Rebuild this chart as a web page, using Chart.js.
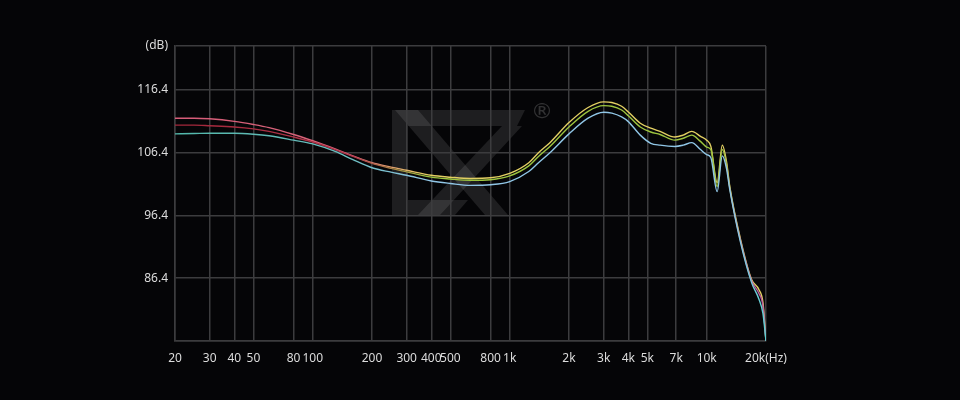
<!DOCTYPE html>
<html>
<head>
<meta charset="utf-8">
<script src="https://cdn.jsdelivr.net/npm/chart.js@4/dist/chart.umd.min.js"></script>
<style>
  html, body { margin: 0; padding: 0; background: #050507; }
  #wrap { width: 960px; height: 400px; position: relative; }
</style>
</head>
<body>
<div id="wrap"><canvas id="c" width="960" height="400"></canvas></div>
<script>
// ---- data ----
const freqs = [20, 25, 30, 40, 50, 60, 80, 100, 130, 160, 200, 250, 300, 400, 500, 630, 800, 1000, 1250, 1400, 1600, 2000, 2500, 3000, 3300, 3700, 4000, 4600, 5200, 5800, 6900, 7600, 8400, 9300, 10000, 10500, 11300, 12000, 12600, 13100, 14800, 16900, 18400, 19300, 20000];
const seriesA = [111.9, 111.9, 111.8, 111.4, 110.9, 110.4, 109.3, 108.3, 107.0, 105.9, 104.8, 104.1, 103.6, 102.8, 102.5, 102.3, 102.4, 103.1, 104.8, 106.4, 108.0, 111.2, 113.6, 114.5, 114.4, 113.8, 112.9, 111.1, 110.3, 109.8, 108.9, 109.2, 109.8, 109.0, 108.4, 107.4, 101.6, 107.6, 105.0, 101.0, 92.8, 86.2, 84.6, 82.5, 76.4];
const seriesB = [110.8, 110.8, 110.7, 110.5, 110.2, 109.8, 108.9, 108.1, 106.9, 105.8, 104.7, 103.9, 103.35, 102.5, 102.2, 102.0, 102.1, 102.7, 104.3, 105.8, 107.4, 110.5, 113.0, 113.9, 113.8, 113.2, 112.3, 110.5, 109.7, 109.3, 108.4, 108.7, 109.2, 108.2, 107.3, 106.9, 101.0, 106.9, 104.6, 100.8, 92.6, 86.0, 84.0, 82.0, 76.4];
const seriesC = [109.4, 109.45, 109.5, 109.5, 109.35, 109.1, 108.4, 107.8, 106.6, 105.3, 104.0, 103.3, 102.8, 101.9, 101.5, 101.2, 101.3, 101.8, 103.4, 104.8, 106.4, 109.4, 111.9, 112.85, 112.7, 112.1, 111.35, 109.2, 107.9, 107.6, 107.4, 107.6, 108.0, 106.9, 106.1, 105.6, 100.2, 105.9, 103.9, 100.5, 92.3, 85.7, 83.1, 80.8, 76.4];
const xTicks = [20, 30, 40, 50, 80, 100, 200, 300, 400, 500, 800, 1000, 2000, 3000, 4000, 5000, 7000, 10000, 20000];
const xTickLabels = ['20', '30', '40', '50', '80', '100', '200', '300', '400', '500', '800', '1k', '2k', '3k', '4k', '5k', '7k', '10k', '20k(Hz)'];
const yTicks = [76.4, 86.4, 96.4, 106.4, 116.4, 123.4];
const yTickLabels = ['', '86.4', '96.4', '106.4', '116.4', '(dB)'];

// colour stops (frequency, colour) per series
const stopsA = [[20, '#d65c78'], [160, '#d8667a'], [380, '#e2cf62'], [20000, '#e2cf62']];
const stopsB = [[20, '#a3263a'], [160, '#b0364a'], [380, '#9cc43e'], [12000, '#9cc43e'], [16000, '#c060a0'], [20000, '#c060a0']];
const stopsC = [[20, '#52b8aa'], [160, '#6cbcc0'], [380, '#90c6e6'], [14000, '#90c6e6'], [20000, '#5cd0d0']];

function gradientFor(stops) {
  return function(context) {
    const chart = context.chart;
    const area = chart.chartArea;
    if (!area) return stops[0][1];
    const g = chart.ctx.createLinearGradient(area.left, 0, area.right, 0);
    stops.forEach(([f, col]) => {
      const p = Math.min(1, Math.max(0, Math.log10(f / 20) / 3));
      g.addColorStop(p, col);
    });
    return g;
  };
}

function pts(vals) { return freqs.map((f, i) => ({ x: f, y: vals[i] })); }

const logoPlugin = {
  id: 'logo',
  beforeDraw(chart) {
    const ctx = chart.ctx;
    ctx.save();
    ctx.fillStyle = '#050507';
    ctx.fillRect(0, 0, chart.width, chart.height);
    ctx.fillStyle = 'rgba(255,255,255,0.10)';
    const polys = [
      [[392, 110], [408, 110], [408, 215], [392, 215]],
      [[408, 110], [525, 110], [517, 126], [408, 126]],
      [[395, 110], [418, 110], [508, 215], [485, 215]],
      [[502, 126], [522, 126], [440, 215], [418, 215]],
      [[408, 200], [468, 200], [455, 215], [408, 215]]
    ];
    polys.forEach(p => {
      ctx.beginPath();
      ctx.moveTo(p[0][0], p[0][1]);
      for (let i = 1; i < p.length; i++) ctx.lineTo(p[i][0], p[i][1]);
      ctx.closePath();
      ctx.fill();
    });
    ctx.fillStyle = 'rgba(255,255,255,0.18)';
    ctx.font = '22px "DejaVu Sans"';
    ctx.textAlign = 'center';
    ctx.textBaseline = 'middle';
    ctx.fillText('®', 542, 112);
    ctx.restore();
  }
};

const gridColor = '#3c3c3e';
new Chart(document.getElementById('c'), {
  type: 'line',
  data: {
    datasets: [
      { data: pts(seriesC), borderColor: gradientFor(stopsC) },
      { data: pts(seriesB), borderColor: gradientFor(stopsB) },
      { data: pts(seriesA), borderColor: gradientFor(stopsA) }
    ].map(d => Object.assign(d, { borderWidth: 1.4, pointRadius: 0, fill: false, cubicInterpolationMode: 'monotone' }))
  },
  options: {
    responsive: false,
    animation: false,
    events: [],
    layout: { padding: { top: 46, right: 194, bottom: 0, left: 0 } },
    plugins: { legend: { display: false }, tooltip: { enabled: false } },
    scales: {
      x: {
        type: 'logarithmic',
        min: 20, max: 20000,
        afterBuildTicks: s => { s.ticks = xTicks.map(v => ({ value: v })); },
        afterFit: s => { s.height = 59; },
        grid: { color: gridColor, lineWidth: 1.5, drawTicks: false },
        border: { color: gridColor, width: 1.5 },
        ticks: {
          autoSkip: false, maxRotation: 0, padding: 10,
          color: '#dcdcdc', font: { family: '"Noto Sans", "DejaVu Sans", sans-serif', size: 12 },
          callback: (v, i) => xTickLabels[i]
        }
      },
      y: {
        min: 76.4, max: 123.4,
        afterBuildTicks: s => { s.ticks = yTicks.map(v => ({ value: v })); },
        afterFit: s => { s.width = 175; },
        grid: { color: gridColor, lineWidth: 1.5, drawTicks: false },
        border: { color: gridColor, width: 1.5 },
        ticks: {
          padding: 7,
          color: '#dcdcdc', font: { family: '"Noto Sans", "DejaVu Sans", sans-serif', size: 12 },
          callback: (v, i) => yTickLabels[i]
        }
      }
    }
  },
  plugins: [logoPlugin]
});
</script>
</body>
</html>
